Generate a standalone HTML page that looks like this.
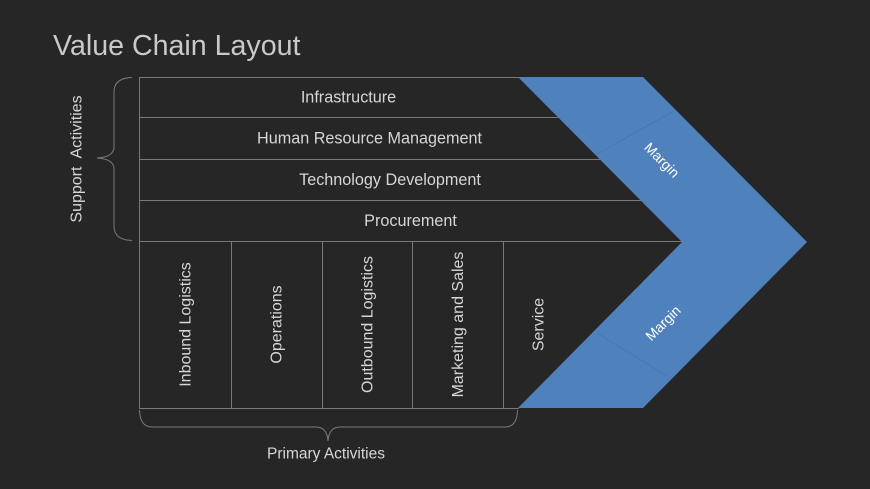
<!DOCTYPE html>
<html>
<head>
<meta charset="utf-8">
<style>
html,body{margin:0;padding:0;background:#262626;}
svg{display:block;}
text{font-family:"Liberation Sans",Arial,sans-serif;}
</style>
</head>
<body>
<svg width="870" height="489" viewBox="0 0 870 489" xmlns="http://www.w3.org/2000/svg">
<rect width="870" height="489" fill="#262626"/>
<text x="53" y="55" font-size="28.6" fill="#c9c9c9">Value Chain Layout</text>

<!-- chevron -->
<polygon points="518,77 643,77 807,242 643,408 518,408 682,242" fill="#4f81bd"/>
<line x1="672" y1="112" x2="597" y2="154" stroke="#4576b0" stroke-width="1"/>
<line x1="597" y1="333" x2="667" y2="376" stroke="#4576b0" stroke-width="1"/>

<!-- support rows lines -->
<g stroke="#7a7a7a" stroke-width="1" fill="none">
<line x1="139" y1="77.5" x2="519" y2="77.5"/>
<line x1="139" y1="117.5" x2="558" y2="117.5"/>
<line x1="139" y1="159.5" x2="600" y2="159.5"/>
<line x1="139" y1="200.5" x2="641" y2="200.5"/>
<line x1="139" y1="241.5" x2="682" y2="241.5"/>
<line x1="139" y1="408.5" x2="519" y2="408.5"/>
<line x1="139.5" y1="77" x2="139.5" y2="409"/>
<line x1="231.5" y1="241" x2="231.5" y2="408"/>
<line x1="322.5" y1="241" x2="322.5" y2="408"/>
<line x1="412.5" y1="241" x2="412.5" y2="408"/>
<line x1="503.5" y1="241" x2="503.5" y2="408"/>
<!-- left brace -->
<path d="M132,77.5 Q114,78 114,92 L114,147 Q114,157 97,158 Q114,159 114,169 L114,226 Q114,240 132,240.5"/>
<!-- bottom brace -->
<path d="M139.5,410 Q140,427 152,427 L316,427 Q327,427 328,441 Q329,427 340,427 L505,427 Q517,427 517.5,410"/>
</g>

<g fill="#d6d6d6" font-size="16.2" text-anchor="middle">
<text x="348.5" y="102.5">Infrastructure</text>
<text x="369.5" y="143.5">Human Resource Management</text>
<text x="390" y="185">Technology Development</text>
<text x="410.5" y="226">Procurement</text>
</g>

<g fill="#d6d6d6" font-size="16" text-anchor="middle">
<text transform="translate(190.5,324.5) rotate(-90)">Inbound Logistics</text>
<text transform="translate(281.5,324.5) rotate(-90)">Operations</text>
<text transform="translate(372.5,324.5) rotate(-90)">Outbound Logistics</text>
<text transform="translate(463,324.5) rotate(-90)">Marketing and Sales</text>
<text transform="translate(543.5,324.5) rotate(-90)">Service</text>
<text transform="translate(81.5,159) rotate(-90)" xml:space="preserve">Support  Activities</text>
<text x="326" y="458.5" font-size="15.5">Primary Activities</text>
</g>

<g fill="#ffffff" font-size="14" text-anchor="middle">
<text transform="translate(662,160) rotate(45)" dy="5">Margin</text>
<text transform="translate(663,323) rotate(-45)" dy="5">Margin</text>
</g>
</svg>
</body>
</html>
